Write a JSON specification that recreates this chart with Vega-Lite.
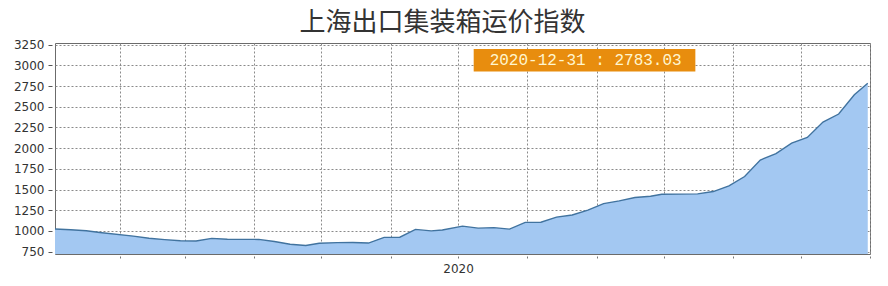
{
  "$schema": "https://vega.github.io/schema/vega-lite/v6.json",
  "width": 815,
  "height": 211,
  "autosize": {"type": "none"},
  "padding": {"left": 55, "top": 43, "right": 18, "bottom": 32},
  "background": "white",
  "title": {
    "text": "上海出口集装箱运价指数",
    "font": "Noto Sans CJK SC",
    "fontSize": 26,
    "fontWeight": "normal",
    "color": "#333333",
    "anchor": "middle",
    "dx": -20,
    "offset": 3
  },
  "config": {
    "view": {"stroke": "#6b6b6b", "strokeWidth": 1},
    "axis": {
      "labelFont": "DejaVu Sans",
      "labelFontSize": 12,
      "labelColor": "#333333",
      "gridColor": "#8a8a8a",
      "gridDash": [2, 2],
      "gridWidth": 1,
      "gridOpacity": 1,
      "domain": false,
      "labelOverlap": false,
      "title": null
    },
    "axisY": {"labelOverlap": false, "labelFlush": false}
  },
  "datasets": {
    "scfi": [
      {"date": "2020-01-03", "value": 1023},
      {"date": "2020-01-10", "value": 1015},
      {"date": "2020-01-17", "value": 1002},
      {"date": "2020-01-23", "value": 982},
      {"date": "2020-02-07", "value": 938},
      {"date": "2020-02-14", "value": 913},
      {"date": "2020-02-21", "value": 896},
      {"date": "2020-02-28", "value": 882},
      {"date": "2020-03-06", "value": 879},
      {"date": "2020-03-13", "value": 911},
      {"date": "2020-03-20", "value": 901},
      {"date": "2020-03-27", "value": 899},
      {"date": "2020-04-03", "value": 898},
      {"date": "2020-04-10", "value": 873},
      {"date": "2020-04-17", "value": 839},
      {"date": "2020-04-24", "value": 824},
      {"date": "2020-04-30", "value": 851},
      {"date": "2020-05-08", "value": 859},
      {"date": "2020-05-15", "value": 861},
      {"date": "2020-05-22", "value": 854},
      {"date": "2020-05-29", "value": 923},
      {"date": "2020-06-05", "value": 925},
      {"date": "2020-06-12", "value": 1019},
      {"date": "2020-06-19", "value": 1001},
      {"date": "2020-06-24", "value": 1012},
      {"date": "2020-07-03", "value": 1058},
      {"date": "2020-07-10", "value": 1034},
      {"date": "2020-07-17", "value": 1041},
      {"date": "2020-07-24", "value": 1022},
      {"date": "2020-07-31", "value": 1104},
      {"date": "2020-08-07", "value": 1106},
      {"date": "2020-08-14", "value": 1168},
      {"date": "2020-08-21", "value": 1193},
      {"date": "2020-08-28", "value": 1252},
      {"date": "2020-09-04", "value": 1330},
      {"date": "2020-09-11", "value": 1364},
      {"date": "2020-09-18", "value": 1405},
      {"date": "2020-09-25", "value": 1419},
      {"date": "2020-09-30", "value": 1444},
      {"date": "2020-10-09", "value": 1445},
      {"date": "2020-10-16", "value": 1448},
      {"date": "2020-10-23", "value": 1476},
      {"date": "2020-10-30", "value": 1545},
      {"date": "2020-11-06", "value": 1658},
      {"date": "2020-11-13", "value": 1857},
      {"date": "2020-11-20", "value": 1935},
      {"date": "2020-11-27", "value": 2060},
      {"date": "2020-12-04", "value": 2130},
      {"date": "2020-12-11", "value": 2315},
      {"date": "2020-12-18", "value": 2412},
      {"date": "2020-12-25", "value": 2645},
      {"date": "2020-12-31", "value": 2783.03}
    ]
  },
  "layer": [
    {
      "data": {"name": "scfi"},
      "mark": {"type": "area", "color": "#a3c8f2", "opacity": 1, "clip": true, "line": {"color": "#41739f", "strokeWidth": 1.4}},
      "encoding": {
        "x": {
          "field": "date",
          "type": "temporal",
          "scale": {"type": "utc", "domain": [{"year": 2020, "month": 1, "date": 3, "utc": true}, {"year": 2021, "month": 1, "date": 1, "utc": true}], "nice": false},
          "axis": {
            "tickCount": {"interval": "month", "step": 1},
            "labelExpr": "utcmonth(datum.value) == 6 ? '2020' : ''",
            "tickColor": "#777777",
            "tickDash": [2, 2],
            "tickSize": 4,
            "offset": 2,
            "labelPadding": 3,
            "labelFlush": false,
            "labelOverlap": false,
            "grid": true
          }
        },
        "y": {
          "field": "value",
          "type": "quantitative",
          "scale": {"domain": [722, 3270], "nice": false, "zero": false},
          "axis": {
            "values": [750, 1000, 1250, 1500, 1750, 2000, 2250, 2500, 2750, 3000, 3250],
            "format": "d",
            "labelOverlap": false,
            "labelFlush": false,
            "tickColor": "#555555",
            "tickSize": 4,
            "offset": 3,
            "labelPadding": 4,
            "grid": true
          }
        }
      }
    },
    {
      "data": {"values": [{}]},
      "mark": {"type": "rect", "color": "#e88d0e"},
      "encoding": {
        "x": {"datum": {"year": 2020, "month": 7, "date": 8, "utc": true}, "type": "temporal"},
        "x2": {"datum": {"year": 2020, "month": 10, "date": 15, "utc": true}},
        "y": {"datum": 3198, "type": "quantitative", "axis": {"labelOverlap": false, "values": [750, 1000, 1250, 1500, 1750, 2000, 2250, 2500, 2750, 3000, 3250], "format": "d"}},
        "y2": {"datum": 2926}
      }
    },
    {
      "data": {"values": [{}]},
      "mark": {"type": "text", "text": "2020-12-31 : 2783.03", "font": "Liberation Mono", "fontSize": 16, "color": "#fff6d0", "align": "center", "baseline": "middle"},
      "encoding": {
        "x": {"datum": {"year": 2020, "month": 8, "date": 27, "utc": true}, "type": "temporal"},
        "y": {"datum": 3062, "type": "quantitative", "axis": {"labelOverlap": false, "values": [750, 1000, 1250, 1500, 1750, 2000, 2250, 2500, 2750, 3000, 3250], "format": "d"}}
      }
    }
  ]
}
